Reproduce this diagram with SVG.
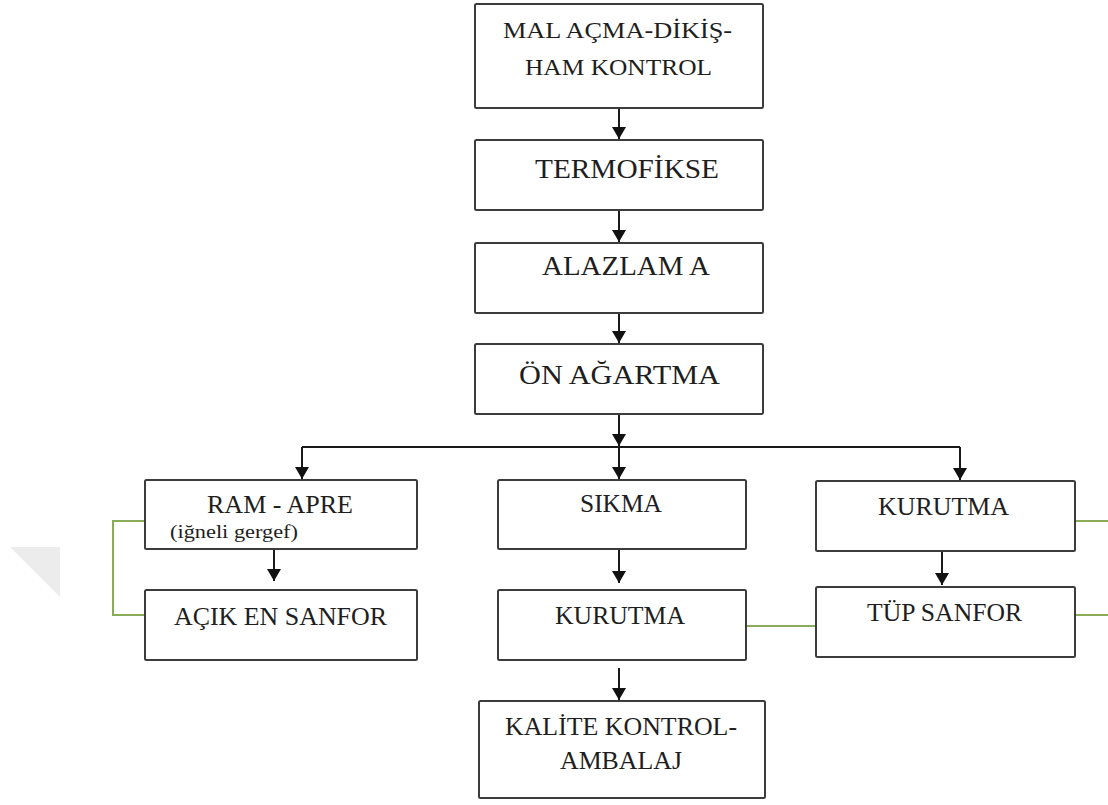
<svg xmlns="http://www.w3.org/2000/svg" width="1108" height="805" viewBox="0 0 1108 805">
  <style>
    .box { fill: #ffffff; stroke: #3c3c3c; stroke-width: 2; }
    .lbl { fill: #1e1e1e; }
    .big { font-size: 28px; }
    .mid { font-size: 25px; }
    .top { font-size: 24px; }
    .small { font-size: 19px; }
    .flow { fill: none; stroke: #1a1a1a; stroke-width: 2; }
    .link { fill: none; stroke: #8aac58; stroke-width: 2; }
  </style>
  <defs>
    <marker id="arrow" markerUnits="userSpaceOnUse" markerWidth="16" markerHeight="14" refX="12" refY="7" orient="auto">
      <path d="M0,0 L12,7 L0,14 Z" fill="#111111"/>
    </marker>
  </defs>

  <!-- faint corner mark -->
  <polygon points="10,547 60,547 60,597" fill="#ececec"/>

  <g id="connectors">
    <path class="flow" d="M619,108 V139" marker-end="url(#arrow)"/>
    <path class="flow" d="M619,210 V242" marker-end="url(#arrow)"/>
    <path class="flow" d="M619,313 V343" marker-end="url(#arrow)"/>
    <path class="flow" d="M619,414 V446" marker-end="url(#arrow)"/>
    <path class="flow" d="M302,447 H960"/>
    <path class="flow" d="M302,447 V479" marker-end="url(#arrow)"/>
    <path class="flow" d="M619,447 V479" marker-end="url(#arrow)"/>
    <path class="flow" d="M960,447 V480" marker-end="url(#arrow)"/>
    <path class="flow" d="M274,549 V581" marker-end="url(#arrow)"/>
    <path class="flow" d="M619,549 V583" marker-end="url(#arrow)"/>
    <path class="flow" d="M942,551 V585" marker-end="url(#arrow)"/>
    <path class="flow" d="M619,668 V700" marker-end="url(#arrow)"/>
    <path class="link" d="M145,521 H113 V615 H145"/>
    <path class="link" d="M746,626 H816"/>
    <path class="link" d="M1075,521 H1108"/>
    <path class="link" d="M1075,615 H1108"/>
  </g>

  <g font-family="Liberation Serif, DejaVu Serif, serif">
    <g id="mal-acma">
      <rect class="box" x="475" y="4" width="288" height="104" rx="1.5"/>
      <text class="lbl top" x="503" y="38" textLength="229" lengthAdjust="spacingAndGlyphs">MAL AÇMA-DİKİŞ-</text>
      <text class="lbl top" x="525" y="75" textLength="187" lengthAdjust="spacingAndGlyphs">HAM KONTROL</text>
    </g>
    <g id="termofikse">
      <rect class="box" x="475" y="140" width="288" height="70" rx="1.5"/>
      <text class="lbl big" x="535" y="178" textLength="184" lengthAdjust="spacingAndGlyphs">TERMOFİKSE</text>
    </g>
    <g id="alazlama">
      <rect class="box" x="475" y="243" width="288" height="70" rx="1.5"/>
      <text class="lbl big" x="542" y="275" textLength="168" lengthAdjust="spacingAndGlyphs">ALAZLAM A</text>
    </g>
    <g id="on-agartma">
      <rect class="box" x="475" y="344" width="288" height="70" rx="1.5"/>
      <text class="lbl big" x="519" y="384" textLength="201" lengthAdjust="spacingAndGlyphs">ÖN AĞARTMA</text>
    </g>
    <g id="ram-apre">
      <rect class="box" x="145" y="480" width="272" height="69" rx="1.5"/>
      <text class="lbl mid" x="207" y="513" textLength="146" lengthAdjust="spacingAndGlyphs">RAM - APRE</text>
      <text class="lbl small" x="170" y="538" textLength="128" lengthAdjust="spacingAndGlyphs">(iğneli gergef)</text>
    </g>
    <g id="acik-en-sanfor">
      <rect class="box" x="145" y="590" width="272" height="70" rx="1.5"/>
      <text class="lbl mid" x="174" y="625" textLength="213" lengthAdjust="spacingAndGlyphs">AÇIK EN SANFOR</text>
    </g>
    <g id="sikma">
      <rect class="box" x="498" y="480" width="248" height="69" rx="1.5"/>
      <text class="lbl mid" x="580" y="512" textLength="82" lengthAdjust="spacingAndGlyphs">SIKMA</text>
    </g>
    <g id="kurutma-orta">
      <rect class="box" x="498" y="590" width="248" height="70" rx="1.5"/>
      <text class="lbl mid" x="555" y="624" textLength="130" lengthAdjust="spacingAndGlyphs">KURUTMA</text>
    </g>
    <g id="kurutma-sag">
      <rect class="box" x="816" y="481" width="259" height="70" rx="1.5"/>
      <text class="lbl mid" x="878" y="515" textLength="131" lengthAdjust="spacingAndGlyphs">KURUTMA</text>
    </g>
    <g id="tup-sanfor">
      <rect class="box" x="816" y="587" width="259" height="70" rx="1.5"/>
      <text class="lbl mid" x="867" y="621" textLength="155" lengthAdjust="spacingAndGlyphs">TÜP SANFOR</text>
    </g>
    <g id="kalite-kontrol">
      <rect class="box" x="479" y="701" width="286" height="97" rx="1.5"/>
      <text class="lbl mid" x="505" y="735" textLength="232" lengthAdjust="spacingAndGlyphs">KALİTE KONTROL-</text>
      <text class="lbl mid" x="560" y="769" textLength="122" lengthAdjust="spacingAndGlyphs">AMBALAJ</text>
    </g>
  </g>
</svg>
